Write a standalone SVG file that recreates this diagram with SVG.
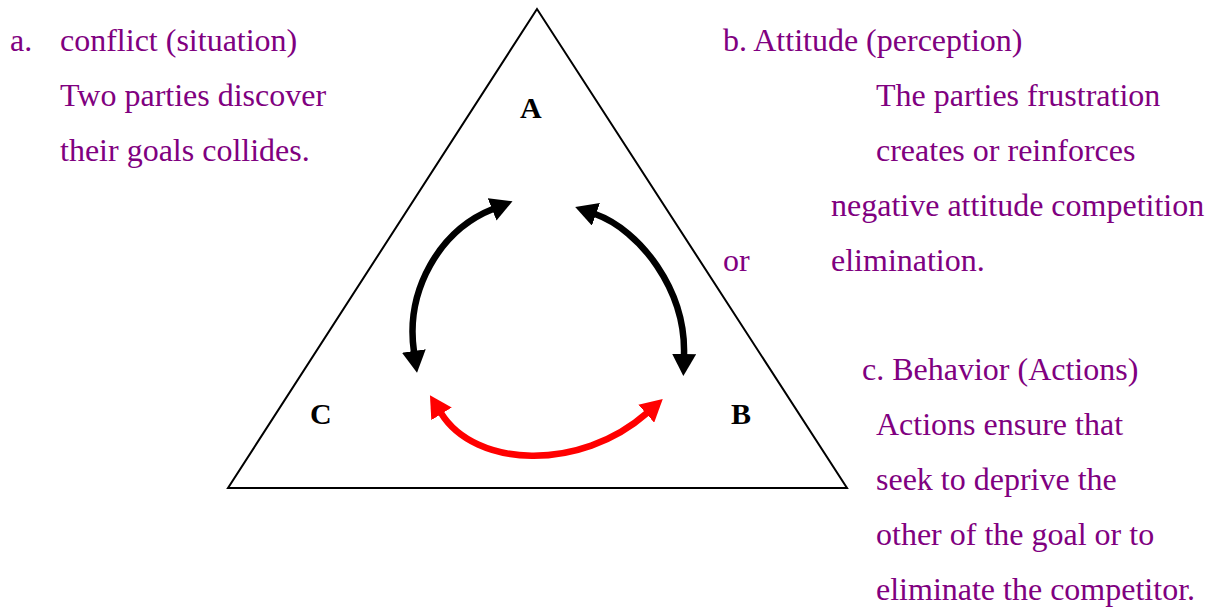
<svg xmlns="http://www.w3.org/2000/svg" width="1214" height="608" viewBox="0 0 1214 608">
<style>
.t{font-family:"Liberation Serif","Times New Roman",serif;font-size:32px;fill:#800080}
.lbl{font-family:"Liberation Serif","Times New Roman",serif;font-size:30px;font-weight:bold;fill:#000}
.blk{fill:none;stroke:#000;stroke-width:6.5}
.red{fill:none;stroke:#ff0000;stroke-width:6.5}
</style>
<defs>
<marker id="hb" viewBox="0 0 22 24" refX="1" refY="12" markerWidth="22" markerHeight="24" markerUnits="userSpaceOnUse" orient="auto-start-reverse">
<path d="M0,0 L22,12 L0,24 z" fill="#000"/>
</marker>
<marker id="hr" viewBox="0 0 22 24" refX="1" refY="12" markerWidth="22" markerHeight="24" markerUnits="userSpaceOnUse" orient="auto-start-reverse">
<path d="M0,0 L22,12 L0,24 z" fill="#ff0000"/>
</marker>
</defs>
<g id="triangle">
<polygon points="537,9 228,488 847,488" fill="none" stroke="#000" stroke-width="2"/>
</g>
<g id="node-A"><text class="lbl" x="520" y="118">A</text></g>
<g id="node-B"><text class="lbl" x="731" y="424">B</text></g>
<g id="node-C"><text class="lbl" x="310" y="424">C</text></g>
<g id="connectors">
<path class="blk" d="M414,352 C405,290 440,230 493,209" marker-start="url(#hb)" marker-end="url(#hb)"/>
<path class="blk" d="M595,214 C640,230 686,290 684,355" marker-start="url(#hb)" marker-end="url(#hb)"/>
<path class="red" d="M441,413 C475,468 580,472 647,413" marker-start="url(#hr)" marker-end="url(#hr)"/>
</g>
<g id="text-a">
<text class="t" x="10" y="51">a.</text>
<text class="t" x="60" y="51">conflict (situation)</text>
<text class="t" x="60" y="106">Two parties discover</text>
<text class="t" x="60" y="161">their goals collides.</text>
</g>
<g id="text-b">
<text class="t" x="723" y="51">b. Attitude (perception)</text>
<text class="t" x="876" y="106">The parties frustration</text>
<text class="t" x="876" y="161">creates or reinforces</text>
<text class="t" x="831" y="216">negative attitude competition</text>
<text class="t" x="723" y="271">or</text>
<text class="t" x="831" y="271">elimination.</text>
</g>
<g id="text-c">
<text class="t" x="862" y="380">c. Behavior (Actions)</text>
<text class="t" x="876" y="435">Actions ensure that</text>
<text class="t" x="876" y="490">seek to deprive the</text>
<text class="t" x="876" y="545">other of the goal or to</text>
<text class="t" x="876" y="600">eliminate the competitor.</text>
</g>
</svg>
